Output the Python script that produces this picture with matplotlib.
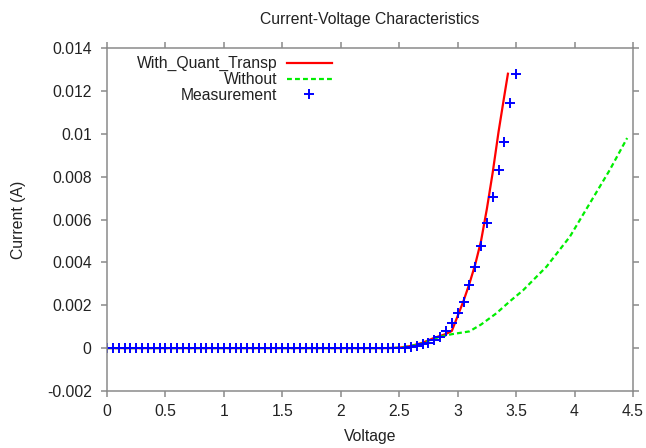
import matplotlib
matplotlib.use("Agg")
import matplotlib.pyplot as plt

# ---- data ----
meas_v = [round(0.05 * i, 2) for i in range(71)]
meas_i = [0.0] * 51 + [0.00002, 0.00004, 0.00010, 0.00017, 0.00025, 0.00037, 0.00053,
                       0.00079, 0.00115, 0.00162, 0.00216, 0.00294, 0.00379, 0.00476,
                       0.00583, 0.00704, 0.00830, 0.00962, 0.01142, 0.01281]

quant_v = [0.0, 0.5, 1.0, 1.5, 2.0, 2.4, 2.5, 2.6, 2.7, 2.8, 2.9, 2.95, 3.0, 3.05, 3.1,
           3.15, 3.2, 3.25, 3.3, 3.35, 3.4, 3.43]
quant_i = [0.0, 0.0, 0.0, 0.0, 0.0, 0.0, 0.00002, 0.0001, 0.00025, 0.00048, 0.00066,
           0.0008, 0.0015, 0.0022, 0.0030, 0.0039, 0.0050, 0.0065, 0.0082, 0.0101,
           0.0118, 0.0128]

without_v = [0.0, 0.5, 1.0, 1.5, 2.0, 2.4, 2.5, 2.6, 2.7, 2.76, 2.85, 2.95, 3.1, 3.2,
             3.33, 3.45, 3.56, 3.76, 3.96, 4.13, 4.30, 4.45]
without_i = [0.0, 0.0, 0.0, 0.0, 0.0, 0.0, 0.00002, 0.0001, 0.00022, 0.00037, 0.00053,
             0.00065, 0.00078, 0.0011, 0.00162, 0.0022, 0.0027, 0.0038, 0.0052,
             0.00675, 0.0083, 0.0098]

xticks = [0, 0.5, 1, 1.5, 2, 2.5, 3, 3.5, 4, 4.5]
xticklabels = ["0", "0.5", "1", "1.5", "2", "2.5", "3", "3.5", "4", "4.5"]
yticks = [-0.002, 0, 0.002, 0.004, 0.006, 0.008, 0.01, 0.012, 0.014]
yticklabels = ["-0.002", "0", "0.002", "0.004", "0.006", "0.008", "0.01", "0.012", "0.014"]

FS = 11.3
plt.rcParams['font.family'] = ['Liberation Sans', 'DejaVu Sans']
plt.rcParams['font.size'] = FS

fig = plt.figure(figsize=(6.46, 4.48), dpi=100)
ax = fig.add_axes([107 / 646, 1 - 391 / 448, 526 / 646, 343 / 448])

l1, = ax.plot(quant_v, quant_i, color='#ff0000', lw=1.6, label='With_Quant_Transp')
l2, = ax.plot(without_v, without_i, color='#00ee00', lw=1.6, ls=(0, (2.2, 1.4)),
              label='Without')
l3, = ax.plot(meas_v, meas_i, ls='none', marker='+', ms=7, mew=1.4, color='#0000ff',
              label='Measurement')

ax.set_xlim(0, 4.5)
ax.set_ylim(-0.002, 0.014)
ax.set_xticks(xticks)
ax.set_xticklabels(xticklabels)
ax.set_yticks(yticks)
ax.set_yticklabels(yticklabels)

for s in ax.spines.values():
    s.set_color('#8a8a8a')
    s.set_linewidth(1.1)
ax.tick_params(axis='both', which='both', direction='out', length=4, width=1.1,
               color='#8a8a8a', labelcolor='#222222', labelsize=FS,
               top=True, right=True, labeltop=False, labelright=False)
ax.tick_params(axis='y', pad=7)
ax.tick_params(axis='x', pad=5)

ax.set_title('Current-Voltage Characteristics', fontsize=FS, color='#222222', pad=17)
ax.set_xlabel('Voltage', fontsize=FS, color='#222222')
ax.set_ylabel('Current (A)', fontsize=FS, color='#222222')
ax.xaxis.set_label_coords(0.5, -0.11)
ax.yaxis.set_label_coords(-0.154, 0.5)

leg = ax.legend(handles=[l1, l2, l3], loc='upper left',
                bbox_to_anchor=(0.057, 0.976), frameon=False, markerfirst=False,
                handlelength=2.87, handletextpad=0.57, borderpad=0, borderaxespad=0,
                labelspacing=0.05, fontsize=FS)
for t in leg.get_texts():
    t.set_color('#222222')

fig.savefig('out.png', dpi=100)
